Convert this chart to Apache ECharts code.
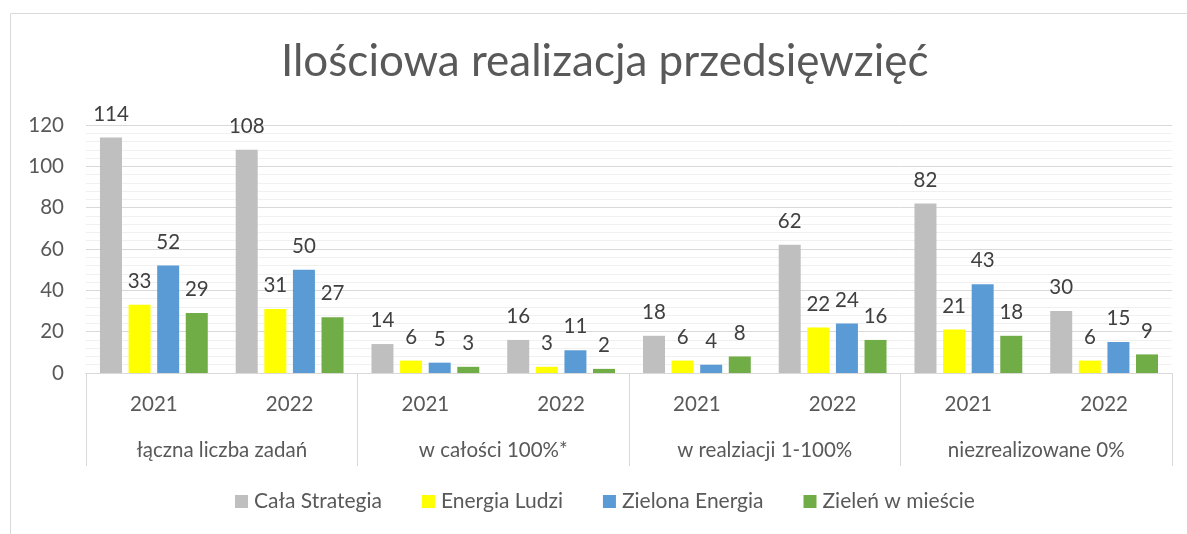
<!DOCTYPE html>
<html>
<head>
<meta charset="utf-8">
<script src="https://cdn.jsdelivr.net/npm/echarts@6/dist/echarts.min.js"></script>
<style>
  html, body { margin: 0; padding: 0; background: #fff; }
  #chart { width: 1187px; height: 534px; }
</style>
</head>
<body>
<div id="chart"></div>
<script>
// dane z wykresu
var years = ['2021', '2022', '2021', '2022', '2021', '2022', '2021', '2022'];
var groups = ['łączna liczba zadań', 'w całości 100%*', 'w realziacji 1-100%', 'niezrealizowane 0%'];
var seriesNames = ['Cała Strategia', 'Energia Ludzi', 'Zielona Energia', 'Zieleń w mieście'];
var calaStrategia = [114, 108, 14, 16, 18, 62, 82, 30];
var energiaLudzi = [33, 31, 6, 3, 6, 22, 21, 6];
var zielonaEnergia = [52, 50, 5, 11, 4, 24, 43, 15];
var zielenWMiescie = [29, 27, 3, 2, 8, 16, 18, 9];
var colors = ['#BFBFBF', '#FFFF00', '#5B9BD5', '#70AD47'];

var font = 'Lato, "Open Sans", sans-serif';
var chart = echarts.init(document.getElementById('chart'));

function bar(name, data, color) {
    return {
        name: name,
        type: 'bar',
        xAxisIndex: 0,
        barWidth: 22,
        barGap: '30%',
        data: data,
        itemStyle: { color: color },
        label: {
            show: true,
            position: 'top',
            distance: 13,
            color: '#404040',
            fontSize: 20.5,
            fontFamily: font
        }
    };
}

var option = {
    animation: false,
    graphic: [{
        type: 'rect',
        shape: { x: 10.5, y: 13.5, width: 1300, height: 600 },
        style: { fill: 'none', stroke: '#d9d9d9', lineWidth: 1 },
        silent: true
    }],
    title: {
        text: 'Ilościowa realizacja przedsięwzięć',
        left: 276,
        top: 35,
        textStyle: { color: '#595959', fontSize: 44, fontWeight: 'normal', fontFamily: font }
    },
    legend: {
        bottom: 17,
        left: 230,
        itemWidth: 13,
        itemHeight: 13,
        itemGap: 40,
        icon: 'rect',
        data: seriesNames,
        textStyle: { color: '#595959', fontSize: 21, fontFamily: font, padding: [0, 0, 0, 1] }
    },
    grid: { left: 86, right: 15, top: 125, bottom: 161 },
    xAxis: [
        {
            type: 'category',
            data: years,
            position: 'bottom',
            axisLine: { lineStyle: { color: '#d9d9d9' } },
            axisTick: { show: false },
            axisLabel: { color: '#595959', fontSize: 20.5, fontFamily: font, margin: 21 }
        },
        {
            type: 'category',
            data: groups,
            position: 'bottom',
            axisLine: { lineStyle: { color: '#d9d9d9' } },
            axisTick: { show: true, length: 93, lineStyle: { color: '#d9d9d9' } },
            axisLabel: { color: '#595959', fontSize: 20.5, fontFamily: font, margin: 67 }
        }
    ],
    yAxis: {
        type: 'value',
        min: 0,
        max: 120,
        interval: 20,
        axisLine: { show: false },
        axisTick: { show: false },
        axisLabel: { color: '#595959', fontSize: 20.5, fontFamily: font, margin: 22 },
        splitLine: { lineStyle: { color: '#d9d9d9' } },
        minorTick: { show: false, splitNumber: 5 },
        minorSplitLine: { show: true, lineStyle: { color: '#f0f0f0' } }
    },
    series: [
        bar(seriesNames[0], calaStrategia, colors[0]),
        bar(seriesNames[1], energiaLudzi, colors[1]),
        bar(seriesNames[2], zielonaEnergia, colors[2]),
        bar(seriesNames[3], zielenWMiescie, colors[3])
    ]
};
chart.setOption(option);
</script>
</body>
</html>
